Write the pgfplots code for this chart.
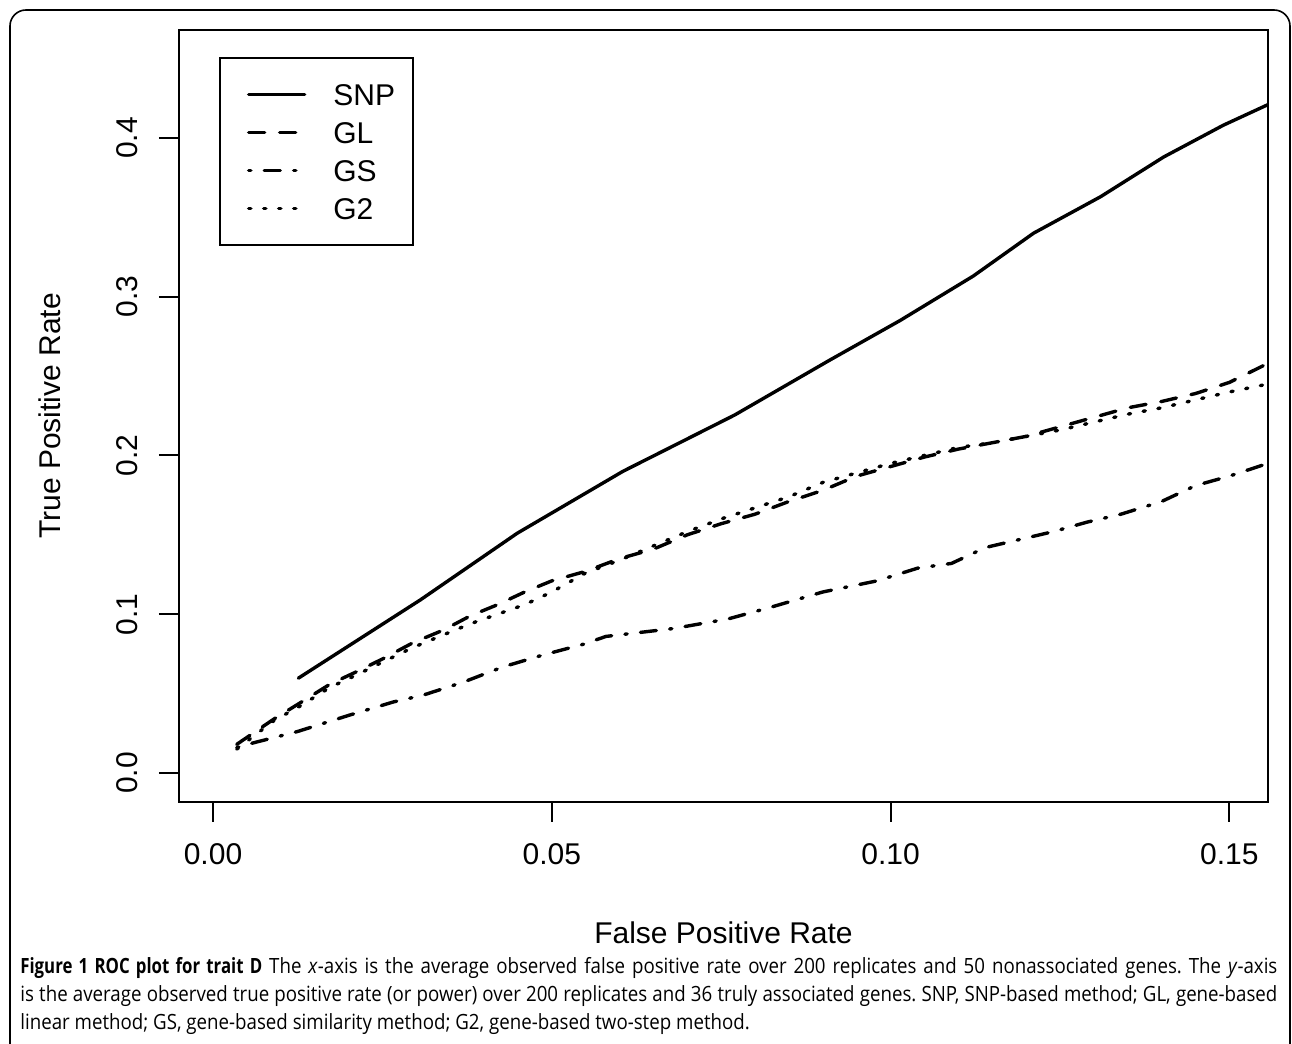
\documentclass[border=0pt]{standalone}
\usepackage{fontspec}
\setmainfont{Liberation Sans}
\newfontfamily\capfont{Open Sans}[FakeStretch=0.89]
\newfontfamily\capbold{Open Sans}[FakeStretch=0.8]
\usepackage{pgfplots}
\pgfplotsset{compat=1.18}

\pgfplotsset{
  snp/.style={black, line width=1.7pt, line cap=round, line join=round},
  gl/.style={snp, dash pattern=on 8pt off 7.5pt},
  gs/.style={snp, dash pattern=on 1.1pt off 6.7pt on 8pt off 6.7pt},
  gtwo/.style={snp, dash pattern=on 1.1pt off 6.4pt},
}
\newcommand{\bigfont}{\fontsize{15}{18}\selectfont}

\begin{document}
\begin{tikzpicture}
\useasboundingbox (0,0) rectangle (646pt,522pt);
% outer frame, open at the bottom
\draw[line width=0.8pt, rounded corners=8pt] (5pt,-5pt) -- (5pt,517pt) -- (645pt,517pt) -- (645pt,-5pt);

\begin{axis}[
  at={(89.5pt,121pt)}, anchor=south west,
  scale only axis, width=544.5pt, height=386pt,
  xmin=-0.00502, xmax=0.1557, ymin=-0.0183, ymax=0.468,
  axis line style={line width=1pt},
  tick style={line width=1pt, black},
  major tick length=10pt, tick align=outside,
  xtick pos=bottom, ytick pos=left,
  xtick={0,0.05,0.10,0.15}, xticklabels={0.00,0.05,0.10,0.15},
  ytick={0,0.1,0.2,0.3,0.4}, yticklabels={0.0,0.1,0.2,0.3,0.4},
  /pgf/number format/assume math mode=true,
  ticklabel style={font=\bigfont, text height=10.7pt, text depth=0pt},
  xticklabel style={anchor=north, yshift=-7pt},
  yticklabel style={xshift=-7pt, rotate=90, anchor=south},
  xlabel={False Positive Rate}, ylabel={True Positive Rate},
  label style={font=\bigfont, text height=10.7pt, text depth=0pt, anchor=center},
  xlabel style={at={(axis description cs:0.5,-0.1697)}},
  ylabel style={at={(axis description cs:-0.1185,0.5)}, rotate=0},
  legend cell align=left,
  legend image code/.code={\path (0pt,0pt) (4.5pt,0pt); \draw[#1] (4.5pt,0pt) -- (32.5pt,0pt);},
  legend style={at={(axis description cs:0.0367,0.965)}, anchor=north west,
    draw=black, line width=1pt, fill=white, font=\bigfont,
    inner xsep=9pt, inner ysep=13pt, row sep=8.3pt, column sep=13.5pt,
    nodes={anchor=west, inner sep=0pt, text height=10.7pt, text depth=0pt}},
]
\addplot[snp] coordinates {
(0.0126,0.0597) (0.0306,0.109) (0.0449,0.151) (0.0605,0.190) (0.0770,0.2255)
(0.0910,0.260) (0.1014,0.285) (0.1122,0.313) (0.1211,0.340) (0.1310,0.363)
(0.1403,0.388) (0.1491,0.408) (0.1557,0.421)};
\addplot[gl] coordinates {
(0.0035,0.018) (0.0090,0.034) (0.0128,0.044) (0.0173,0.056) (0.0213,0.064)
(0.0251,0.072) (0.0295,0.082) (0.0340,0.090) (0.0380,0.099) (0.0420,0.106)
(0.0460,0.114) (0.0500,0.121) (0.0550,0.127) (0.0600,0.135) (0.0650,0.141)
(0.0700,0.150) (0.0750,0.157) (0.0800,0.163) (0.0850,0.171) (0.0900,0.178)
(0.0950,0.187) (0.1000,0.193) (0.1050,0.199) (0.1100,0.204) (0.1150,0.208)
(0.1200,0.212) (0.1250,0.218) (0.1300,0.224) (0.1350,0.230) (0.1400,0.234)
(0.1450,0.239) (0.1500,0.246) (0.1557,0.258)};
\addplot[gs] coordinates {
(0.0035,0.016) (0.0060,0.019) (0.0124,0.026) (0.0202,0.0365) (0.0266,0.0447)
(0.0310,0.049) (0.0370,0.0573) (0.0428,0.0668) (0.0487,0.0743) (0.0546,0.081)
(0.0580,0.086) (0.0620,0.088) (0.0680,0.091) (0.0760,0.097) (0.0820,0.104)
(0.0900,0.114) (0.0980,0.121) (0.1040,0.129) (0.1090,0.132) (0.1140,0.142)
(0.1200,0.148) (0.1240,0.152) (0.1290,0.158) (0.1340,0.163) (0.1400,0.171)
(0.1450,0.181) (0.1500,0.187) (0.1557,0.195)};
\addplot[gtwo] coordinates {
(0.0035,0.015) (0.0090,0.033) (0.0128,0.042) (0.0173,0.054) (0.0213,0.062)
(0.0251,0.070) (0.0295,0.079) (0.0340,0.087) (0.0380,0.094) (0.0420,0.100)
(0.0460,0.106) (0.0500,0.114) (0.0550,0.126) (0.0600,0.134) (0.0650,0.143)
(0.0700,0.152) (0.0750,0.160) (0.0800,0.167) (0.0850,0.174) (0.0900,0.183)
(0.0950,0.189) (0.1000,0.195) (0.1050,0.200) (0.1100,0.205) (0.1150,0.208)
(0.1200,0.212) (0.1250,0.216) (0.1300,0.221) (0.1350,0.226) (0.1400,0.230)
(0.1450,0.235) (0.1500,0.240) (0.1557,0.245)};
\legend{SNP,GL,GS,G2}
\end{axis}

\node[anchor=base west, inner sep=0pt] at (10pt,35pt) {\parbox[t]{628.5pt}{%
  \capfont\fontsize{10.5}{13.8}\selectfont\frenchspacing\hyphenpenalty=10000\tolerance=10000
  {\capbold\bfseries Figure 1 ROC plot for trait D} The \textit{x}-axis is the average observed false positive rate over 200 replicates and 50 nonassociated genes. The \textit{y}-axis\linebreak
  is the average observed true positive rate (or power) over 200 replicates and 36 truly associated genes. SNP, SNP-based method; GL, gene-based\linebreak
  linear method; GS, gene-based similarity method; G2, gene-based two-step method.}};
\end{tikzpicture}
\end{document}
